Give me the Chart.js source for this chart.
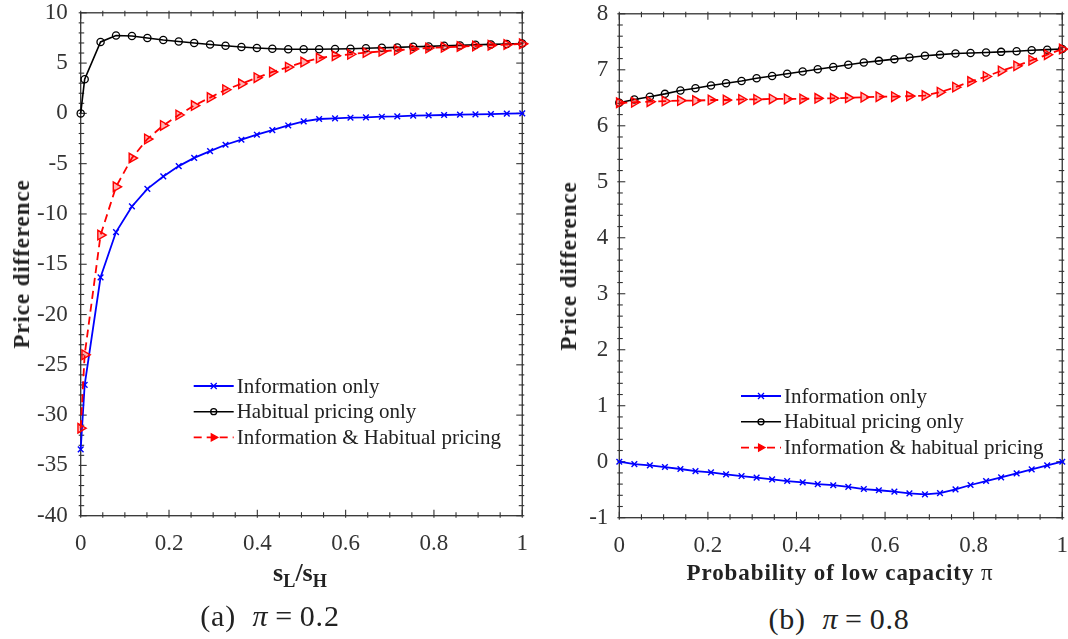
<!DOCTYPE html>
<html>
<head>
<meta charset="utf-8">
<script src="https://cdn.jsdelivr.net/npm/chart.js@4"></script>
<style>
  html, body { margin: 0; padding: 0; background: #fff; }
  #page { position: relative; width: 1068px; height: 639px; overflow: hidden; font-family: "Liberation Serif", "Times New Roman", serif; color: #222; }
  canvas { position: absolute; }
  .lbl { position: absolute; transform: translate(-50%, -50%); white-space: nowrap; }
  .ylbl { transform: translate(-50%, -50%) rotate(-90deg); font-weight: bold; font-size: 23px; letter-spacing: 0.9px; }
  .xlbl { font-weight: bold; }
  .cap { font-size: 30px; letter-spacing: 0.8px; }
  .cap i { font-style: italic; }
  sub { font-size: 70%; vertical-align: -0.35em; }
</style>
</head>
<body>
<div id="page">
  <canvas id="chart-a" width="542" height="614" style="left:0; top:-14px"></canvas>
  <canvas id="chart-b" width="542" height="611" style="left:540px; top:-11px"></canvas>
  <div class="lbl ylbl" style="left:22px; top:264px">Price difference</div>
  <div class="lbl ylbl" style="left:569px; top:266px">Price difference</div>
  <div class="lbl xlbl" style="left:300px; top:575px; font-size:26px">s<sub>L</sub>/s<sub>H</sub></div>
  <div class="lbl xlbl" style="left:840px; top:573px; font-size:23px; letter-spacing:0.9px">Probability of low capacity <span style="font-weight:normal">π</span></div>
  <div class="lbl cap" style="left:270px; top:616px">(a)&nbsp;&nbsp;<i>π</i>&thinsp;=&thinsp;0.2</div>
  <div class="lbl cap" style="left:839px; top:619px">(b)&nbsp;&nbsp;<i>π</i>&thinsp;=&thinsp;0.8</div>
</div>
<script>
// Data — panel (a): pi = 0.2, x = s_L/s_H
const xsA = [0, 0.009, 0.045, 0.080, 0.116, 0.151, 0.187, 0.222, 0.257, 0.293, 0.328, 0.364, 0.399, 0.434, 0.470,
  0.505, 0.540, 0.576, 0.611, 0.646, 0.682, 0.717, 0.753, 0.788, 0.823, 0.859, 0.894, 0.929, 0.965, 1.0];
const infoA = [-33.4, -27.0, -16.3, -11.8, -9.25, -7.5, -6.27, -5.24, -4.42, -3.76, -3.12, -2.62, -2.12, -1.67, -1.2,
  -0.8, -0.56, -0.5, -0.43, -0.4, -0.33, -0.3, -0.23, -0.2, -0.16, -0.13, -0.1, -0.07, -0.03, 0];
const habitA = [0, 3.4, 7.1, 7.75, 7.7, 7.5, 7.3, 7.15, 7.0, 6.85, 6.72, 6.6, 6.5, 6.43, 6.38,
  6.37, 6.37, 6.4, 6.43, 6.47, 6.52, 6.56, 6.62, 6.66, 6.72, 6.76, 6.82, 6.86, 6.9, 6.95];
const bothA = [-31.3, -24.0, -12.1, -7.3, -4.44, -2.55, -1.2, -0.16, 0.78, 1.57, 2.35, 2.94, 3.55, 4.12, 4.6,
  5.1, 5.5, 5.72, 5.88, 6.04, 6.17, 6.3, 6.4, 6.5, 6.57, 6.64, 6.7, 6.77, 6.84, 6.92];
const labelsA = ["Information only", "Habitual pricing only", "Information & Habitual pricing"];

// Data — panel (b): pi on x
const xsB = [0, 0.034, 0.069, 0.103, 0.138, 0.172, 0.207, 0.241, 0.276, 0.310, 0.345, 0.379, 0.414, 0.448, 0.483,
  0.517, 0.552, 0.586, 0.621, 0.655, 0.690, 0.724, 0.759, 0.793, 0.828, 0.862, 0.897, 0.931, 0.966, 1.0];
const infoB = [0, -0.042, -0.065, -0.095, -0.13, -0.167, -0.19, -0.226, -0.256, -0.285, -0.315, -0.345, -0.369, -0.40, -0.42,
  -0.45, -0.488, -0.51, -0.535, -0.565, -0.583, -0.56, -0.494, -0.416, -0.345, -0.28, -0.208, -0.137, -0.065, 0];
const habitB = [6.41, 6.47, 6.52, 6.57, 6.63, 6.67, 6.72, 6.76, 6.80, 6.85, 6.89, 6.93, 6.97, 7.01, 7.05,
  7.09, 7.13, 7.16, 7.19, 7.22, 7.25, 7.27, 7.29, 7.30, 7.31, 7.32, 7.33, 7.35, 7.36, 7.37];
const bothB = [6.41, 6.42, 6.43, 6.44, 6.45, 6.45, 6.46, 6.46, 6.47, 6.47, 6.48, 6.48, 6.48, 6.49, 6.49,
  6.50, 6.51, 6.52, 6.52, 6.53, 6.54, 6.60, 6.69, 6.79, 6.88, 6.98, 7.07, 7.17, 7.27, 7.37];
const labelsB = ["Information only", "Habitual pricing only", "Information & habitual pricing"];

const FONT = "'Liberation Serif', 'Times New Roman', serif";
const AXIS_COLOR = "#333";

const pts = (xs, ys) => xs.map((x, i) => ({ x, y: ys[i] }));
const fmtTick = (v) => String(Math.round(v * 10) / 10);

// marker drawing, used by the legend
const drawMarker = (ctx, style, x, y, r) => {
  ctx.beginPath();
  if (style === "crossRot") {
    ctx.moveTo(x - r, y - r); ctx.lineTo(x + r, y + r);
    ctx.moveTo(x - r, y + r); ctx.lineTo(x + r, y - r);
    ctx.stroke();
  } else if (style === "circle") {
    ctx.arc(x, y, r, 0, Math.PI * 2);
    ctx.stroke();
  } else {
    ctx.moveTo(x + r, y); ctx.lineTo(x - r * 0.6, y - r * 0.9); ctx.lineTo(x - r * 0.6, y + r * 0.9);
    ctx.closePath();
    ctx.fill(); ctx.stroke();
  }
};

// MATLAB-like box with inward ticks on all four sides
const boxTicks = {
  id: "boxTicks",
  beforeDatasetsDraw(chart, args, o) {
    const { ctx, chartArea: a, scales: { x, y } } = chart;
    ctx.save();
    ctx.strokeStyle = AXIS_COLOR;
    ctx.lineWidth = 1.3;
    ctx.strokeRect(a.left, a.top, a.right - a.left, a.bottom - a.top);
    ctx.lineWidth = 1.1;
    const seg = (x1, y1, x2, y2) => { ctx.beginPath(); ctx.moveTo(x1, y1); ctx.lineTo(x2, y2); ctx.stroke(); };
    const nx = Math.round((x.max - x.min) / o.xMinor);
    for (let i = 0; i <= nx; i++) {
      const px = x.getPixelForValue(x.min + i * o.xMinor);
      const len = i % o.xEvery === 0 ? 6 : 3.5;
      seg(px, a.bottom + 2, px, a.bottom - len);
      seg(px, a.top - 2, px, a.top + len);
    }
    const ny = Math.round((y.max - y.min) / o.yMinor);
    for (let i = 0; i <= ny; i++) {
      const py = y.getPixelForValue(y.min + i * o.yMinor);
      const len = i % o.yEvery === 0 ? 6 : 3.5;
      seg(a.left - 2, py, a.left + len, py);
      seg(a.right + 2, py, a.right - len, py);
    }
    ctx.restore();
  }
};

// legend drawn inside the plot area
const inLegend = {
  id: "inLegend",
  afterDraw(chart, args, o) {
    const ctx = chart.ctx;
    ctx.save();
    chart.data.datasets.forEach((ds, i) => {
      const y = o.y + i * o.rowH;
      ctx.strokeStyle = ds.borderColor;
      ctx.lineWidth = ds.borderWidth;
      ctx.setLineDash(ds.borderDash || []);
      ctx.beginPath(); ctx.moveTo(o.x, y); ctx.lineTo(o.x + o.w, y); ctx.stroke();
      ctx.setLineDash([]);
      ctx.lineWidth = 1.3;
      ctx.fillStyle = ds.borderColor;
      drawMarker(ctx, ds.pointStyle, o.x + o.w / 2, y, ds.pointStyle === "triangle" ? 4 : 3);
      ctx.fillStyle = "#222";
      ctx.font = `21px ${FONT}`;
      ctx.textBaseline = "middle";
      ctx.fillText(ds.label, o.x + o.w + 3, y + 1);
    });
    ctx.restore();
  }
};

const makeDatasets = (xs, info, habit, both, labels) => [
  { label: labels[0], data: pts(xs, info), order: 1, borderColor: "#0000ff", borderWidth: 1.8,
    pointStyle: "crossRot", pointRadius: 4, pointBorderWidth: 1.4, pointBorderColor: "#0000ff" },
  { label: labels[1], data: pts(xs, habit), order: 2, borderColor: "#000000", borderWidth: 1.6,
    pointStyle: "circle", pointRadius: 3.6, pointBorderWidth: 1.3, pointBorderColor: "#000000",
    pointBackgroundColor: "rgba(0,0,0,0)" },
  { label: labels[2], data: pts(xs, both), order: 0, borderColor: "#ff0000", borderWidth: 1.8, borderDash: [8, 5],
    pointStyle: "triangle", rotation: 90, pointRadius: 5.5, pointBorderWidth: 1.4, pointBorderColor: "#ff0000",
    pointBackgroundColor: "rgba(255,0,0,0.3)" }
].map((d) => ({ ...d, showLine: true, fill: false, tension: 0, clip: false }));

// chart area edges come from tick label overflow, the canvas offset places them
const makeChart = (id, datasets, yr, xH, yW, ticksOpt, legendOpt) => new Chart(document.getElementById(id), {
  type: "scatter",
  data: { datasets },
  options: {
    responsive: false,
    animation: false,
    layout: { padding: 0 },
    scales: {
      x: {
        type: "linear", min: 0, max: 1,
        ticks: { stepSize: 0.2, font: { family: FONT, size: 23 }, color: AXIS_COLOR, padding: 14, callback: fmtTick },
        grid: { display: false, drawTicks: false }, border: { display: false },
        afterFit: (s) => { s.height = xH; }
      },
      y: {
        type: "linear", min: yr.min, max: yr.max,
        ticks: { stepSize: yr.step, font: { family: FONT, size: 23 }, color: AXIS_COLOR, padding: yr.pad, callback: fmtTick },
        grid: { display: false, drawTicks: false }, border: { display: false },
        afterFit: (s) => { s.width = yW; }
      }
    },
    plugins: { legend: { display: false }, tooltip: { enabled: false }, boxTicks: ticksOpt, inLegend: legendOpt }
  },
  plugins: [boxTicks, inLegend]
});

makeChart("chart-a", makeDatasets(xsA, infoA, habitA, bothA, labelsA),
  { min: -40, max: 10, step: 5, pad: 13 }, 84.3, 80.7,
  { xMinor: 0.05, xEvery: 4, yMinor: 1, yEvery: 5 },
  { x: 193.7, y: 400, rowH: 25.7, w: 40 });

makeChart("chart-b", makeDatasets(xsB, infoB, habitB, bothB, labelsB),
  { min: -1, max: 8, step: 1, pad: 11 }, 82.3, 79.3,
  { xMinor: 0.05, xEvery: 4, yMinor: 0.2, yEvery: 5 },
  { x: 201, y: 407, rowH: 25.8, w: 40 });
</script>
</body>
</html>
